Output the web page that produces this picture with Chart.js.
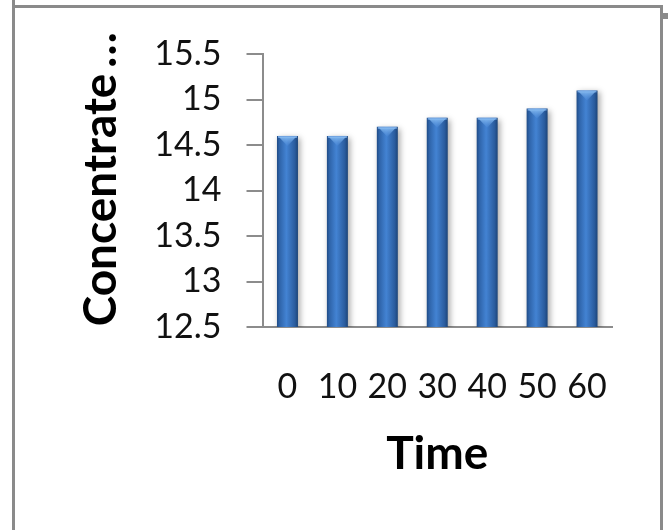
<!DOCTYPE html>
<html>
<head>
<meta charset="utf-8">
<script src="https://cdn.jsdelivr.net/npm/chart.js@4/dist/chart.umd.min.js"></script>
<style>
  html, body { margin: 0; padding: 0; background: #fff; }
  #wrap { position: relative; width: 668px; height: 530px; overflow: hidden; }
  #wrap canvas { position: absolute; left: 0; top: 0; }
  .edge { position: absolute; background: #8a8a8a; }
</style>
</head>
<body>
<div id="wrap">
  <canvas id="c" width="668" height="530"></canvas>
  <div class="edge" style="left:12px; top:0; width:3px; height:530px;"></div>
  <div class="edge" style="left:12px; top:5px; width:651px; height:3px;"></div>
  <div class="edge" style="left:660px; top:5px; width:3px; height:525px;"></div>
  <div class="edge" style="left:663px; top:13px; width:5px; height:6px;"></div>
</div>
<script>
// Concentration readings over time
const timeLabels = ['0', '10', '20', '30', '40', '50', '60'];
const concentration = [14.6, 14.6, 14.7, 14.8, 14.8, 14.9, 15.1];
const yTicks = [12.5, 13, 13.5, 14, 14.5, 15, 15.5];

const BAR_FRACTION = 0.42;
const FONT = 'Lato, "Open Sans", sans-serif';

// cylinder-like horizontal shading for each column
function columnFill(c) {
  const chart = c.chart;
  const xs = chart.scales && chart.scales.x;
  if (!xs || c.dataIndex === undefined || !isFinite(xs.left)) return '#3A72BC';
  const cx = xs.getPixelForValue(c.dataIndex);
  const w = (xs.right - xs.left) / timeLabels.length * BAR_FRACTION;
  const g = chart.ctx.createLinearGradient(cx - w / 2, 0, cx + w / 2, 0);
  g.addColorStop(0, '#1F4B86');
  g.addColorStop(0.12, '#2E63A8');
  g.addColorStop(0.45, '#4383D3');
  g.addColorStop(0.85, '#2A5C9E');
  g.addColorStop(1, '#1C4478');
  return g;
}

// soft drop shadow under the columns and a light bevel cap on top
const columnStyle = {
  id: 'columnStyle',
  beforeDatasetDraw(chart) {
    const ctx = chart.ctx;
    ctx.save();
    ctx.shadowColor = 'rgba(0,0,0,0.35)';
    ctx.shadowBlur = 6;
    ctx.shadowOffsetX = 2;
    ctx.shadowOffsetY = 2;
  },
  afterDatasetDraw(chart, args) {
    const ctx = chart.ctx;
    ctx.restore();
    const meta = args.meta;
    ctx.save();
    meta.data.forEach((el) => {
      const { x, y, width } = el.getProps(['x', 'y', 'width'], true);
      const l = x - width / 2, r = x + width / 2;
      // top rim
      ctx.fillStyle = 'rgba(120,170,230,0.9)';
      ctx.fillRect(l + 1, y, width - 2, 2);
      // inverted triangle highlight
      const tg = ctx.createLinearGradient(0, y, 0, y + 10);
      tg.addColorStop(0, '#8CC0F2');
      tg.addColorStop(1, 'rgba(90,150,225,0.2)');
      ctx.fillStyle = tg;
      ctx.beginPath();
      ctx.moveTo(l + 2, y + 1);
      ctx.lineTo(r - 2, y + 1);
      ctx.lineTo(x, y + 10);
      ctx.closePath();
      ctx.fill();
    });
    ctx.restore();
  }
};

new Chart(document.getElementById('c'), {
  type: 'bar',
  data: {
    labels: timeLabels,
    datasets: [{
      data: concentration,
      backgroundColor: columnFill,
      borderWidth: 0,
      barPercentage: BAR_FRACTION,
      categoryPercentage: 1
    }]
  },
  plugins: [columnStyle],
  options: {
    responsive: false,
    animation: false,
    events: [],
    layout: { padding: { left: 50, top: 54, right: 56, bottom: 0 } },
    plugins: { legend: { display: false }, tooltip: { enabled: false } },
    scales: {
      x: {
        grid: { display: false },
        border: { display: true, color: '#8c8c8c', width: 2 },
        ticks: {
          color: '#111',
          font: { family: FONT, size: 34 },
          padding: 32,
          autoSkip: false,
          maxRotation: 0,
          minRotation: 0
        },
        title: {
          display: true,
          text: 'Time',
          color: '#000',
          font: { family: FONT, size: 46, weight: 'bold' },
          padding: { top: 0, bottom: 48 }
        },
        afterFit(scale) { scale.height = 203; }
      },
      y: {
        min: 12.5,
        max: 15.5,
        afterBuildTicks(scale) { scale.ticks = yTicks.map(v => ({ value: v })); },
        grid: {
          drawOnChartArea: false,
          drawTicks: true,
          tickLength: 16,
          color: '#8c8c8c',
          lineWidth: 2
        },
        border: { display: true, color: '#8c8c8c', width: 2 },
        ticks: {
          color: '#111',
          font: { family: FONT, size: 34 },
          padding: 25,
          callback: (v) => String(v)
        },
        title: {
          display: true,
          text: '\u00A0\u00A0Concentrate\u2009…',
          color: '#000',
          font: { family: FONT, size: 46, weight: 'bold' },
          padding: { top: 24, bottom: 0 }
        },
        afterFit(scale) { scale.width = 212.5; }
      }
    }
  }
});
</script>
</body>
</html>
